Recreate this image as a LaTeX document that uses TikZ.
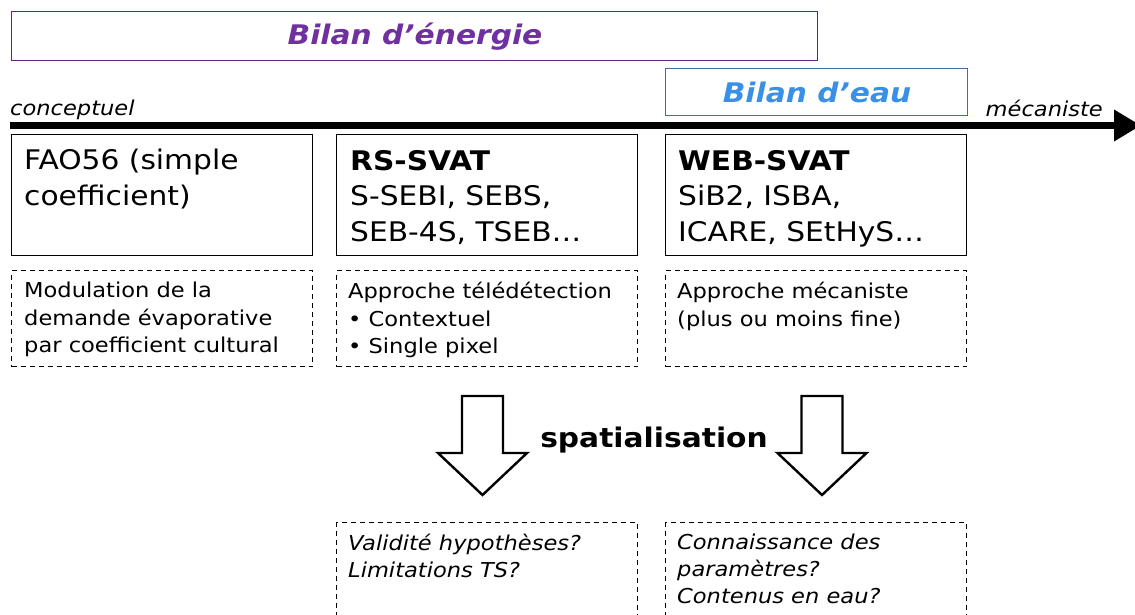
\documentclass[tikz,border=0pt]{standalone}
\usepackage{fontspec}
\setmainfont[FakeStretch=1.1]{DejaVu Sans}
\usetikzlibrary{positioning}
\usetikzlibrary{arrows.meta}

\definecolor{energiepurple}{HTML}{7030A0}
\definecolor{eaublue}{HTML}{3A8FE6}
\definecolor{eauframe}{HTML}{3F6FA8}

\tikzset{
  modelbox/.style={draw=black, line width=1.4pt, minimum width=301pt, minimum height=121pt, anchor=north west, inner sep=0pt},
  notebox/.style={draw=black, line width=1.3pt, dash pattern=on 5pt off 4pt, minimum width=301pt, anchor=north west, inner sep=0pt},
  modeltxt/.style={anchor=north west, align=left, inner sep=0pt, font=\fontsize{27}{35.5}\selectfont},
  notetxt/.style={anchor=north west, align=left, inner sep=0pt, font=\fontsize{20.5}{27.5}\selectfont},
  bilantxt/.style={anchor=base, inner sep=0pt, font=\fontsize{27}{33}\selectfont\bfseries\itshape},
  bigarrow/.style={draw=black, line width=2.4pt, fill=white, line join=miter}
}

\begin{document}
\begin{tikzpicture}[x=1pt,y=-1pt]
  \clip (0,0) rectangle (1135,615);
  \fill[white] (0,0) rectangle (1135,615);

  % bilans
  \node[draw=energiepurple!80!black, line width=1.2pt, minimum width=806pt, minimum height=49pt, anchor=north west] (energie) at (11,11) {};
  \node[bilantxt, text=energiepurple] (energietxt) at (415,45) {Bilan d’énergie};
  \node[draw=eauframe, line width=1.2pt, minimum width=302pt, minimum height=47pt, anchor=north west] (eau) at (665,68) {};
  \node[bilantxt, text=eaublue] (eautxt) at (817,103) {Bilan d’eau};

  % axe
  \coordinate (axestart) at (10,125.5);
  \coordinate (axeend) at (1141,125.5);
  \draw[line width=7pt, -{Triangle[length=27pt,width=30pt]}] (axestart) -- (axeend);
  \node[anchor=base west, inner sep=0pt, font=\fontsize{20.5}{24}\selectfont\itshape] (concept) at (10,116) {conceptuel};
  \node[anchor=base east, inner sep=0pt, font=\fontsize{20.5}{24}\selectfont\itshape] (meca) at (1103,117) {mécaniste};

  % modeles
  \node[modelbox] (fao) at (11,134) {};
  \node[modelbox] (rs) at (336,134) {};
  \node[modelbox] (web) at (665,134) {};
  \node[modeltxt] (faotxt) at ([xshift=13pt,yshift=-15pt]fao.north west) {FAO56 (simple\\coefficient)};
  \node[modeltxt] (rstxt) at ([xshift=14pt,yshift=-16pt]rs.north west) {\textbf{RS-SVAT}\\S-SEBI, SEBS,\\SEB-4S, TSEB…};
  \node[modeltxt] (webtxt) at ([xshift=13pt,yshift=-16pt]web.north west) {\textbf{WEB-SVAT}\\SiB2, ISBA,\\ICARE, SEtHyS…};

  % approches
  \node[notebox, minimum height=96pt] (faonote) at (11,270) {};
  \node[notebox, minimum height=96pt] (rsnote) at (336,270) {};
  \node[notebox, minimum height=96pt] (webnote) at (665,270) {};
  \node[notetxt] (faonotetxt) at ([xshift=13pt,yshift=-12pt]faonote.north west) {Modulation de la\\demande évaporative\\par coefficient cultural};
  \node[notetxt] (rsnotetxt) at ([xshift=12pt,yshift=-12pt]rsnote.north west) {Approche télédétection\\• Contextuel\\• Single pixel};
  \node[notetxt] (webnotetxt) at ([xshift=12pt,yshift=-12pt]webnote.north west) {Approche mécaniste\\(plus ou moins fine)};

  % spatialisation
  \foreach \x in {482.5,822}
    \draw[bigarrow] ({\x-20.5},396) -- ({\x+20.5},396) -- ({\x+20.5},453) -- ({\x+44.5},453)
      -- (\x,495) -- ({\x-44.5},453) -- ({\x-20.5},453) -- cycle;
  \node[inner sep=0pt, font=\fontsize{27}{33}\selectfont\bfseries] (spatial) at (654,440) {spatialisation};

  % questions
  \node[notebox, minimum height=110pt] (rsquest) at (336,522) {};
  \node[notebox, minimum height=110pt] (webquest) at (665,522) {};
  \node[notetxt, font=\fontsize{20.5}{27}\selectfont\itshape] (rsquesttxt) at ([xshift=12pt,yshift=-12pt]rsquest.north west) {Validité hypothèses?\\Limitations TS?};
  \node[notetxt, font=\fontsize{20.5}{27}\selectfont\itshape] (webquesttxt) at ([xshift=12pt,yshift=-12pt]webquest.north west) {Connaissance des\\paramètres?\\Contenus en eau?};
\end{tikzpicture}
\end{document}
